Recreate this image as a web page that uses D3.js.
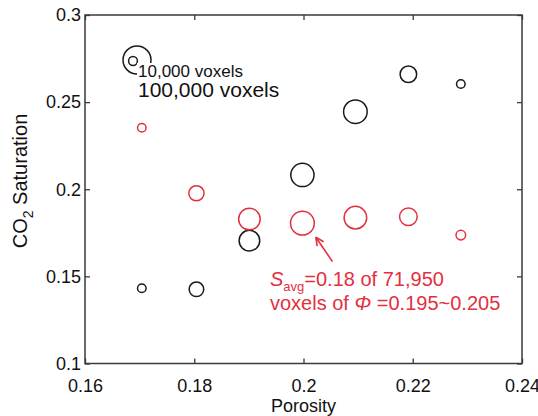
<!DOCTYPE html>
<html>
<meta charset="utf-8">
<script src="https://d3js.org/d3.v7.min.js"></script>
<style>
  body { margin: 0; background: #fff; }
  text { font-family: "Liberation Sans", Arial, sans-serif; }
</style>
<body>
<div id="my_dataviz"></div>

<script>

// porosity bins (x) and the two saturation series
var porosity = [0.1704, 0.1804, 0.1901, 0.1998, 0.2095, 0.2192, 0.2288];

var satBlack = [0.1432, 0.1426, 0.1705, 0.2082, 0.2445, 0.2660, 0.2604];
var voxBlack = [9400, 27200, 54100, 68700, 71000, 35100, 9400];

var satRed = [0.2353, 0.1977, 0.1829, 0.1805, 0.1837, 0.1842, 0.1737];
var voxRed = [9400, 29500, 59500, 71950, 65100, 39500, 11800];

var xTicks = [0.16, 0.18, 0.2, 0.22, 0.24];
var yTicks = [0.1, 0.15, 0.2, 0.25, 0.3];

// legend sizes
var legendVox = [10000, 100000];
var legendLabels = ["10,000 voxels", "100,000 voxels"];

var margin = {top: 15, right: 16, bottom: 52.5, left: 85},
    width = 538 - margin.left - margin.right,
    height = 416 - margin.top - margin.bottom;

var red = "#e3303f";
var axisColor = "#3a3a3a";

var svg = d3.select("#my_dataviz")
  .append("svg")
    .attr("width", 538)
    .attr("height", 416)
  .append("g")
    .attr("transform", "translate(" + margin.left + "," + margin.top + ")");

var x = d3.scaleLinear().domain([0.16, 0.24]).range([0, width]);
var y = d3.scaleLinear().domain([0.1, 0.3]).range([height, 0]);
var r = d3.scaleSqrt().domain([0, 100000]).range([0, 14]);

var fmt = function(d) { return String(+d.toFixed(2)); };

// axes, ticks pointing inward
function styleAxis(g) {
  g.select(".domain").remove();
  g.selectAll(".tick line").attr("stroke", axisColor).attr("stroke-width", 1.3);
  g.selectAll(".tick text").attr("fill", "#111").style("font-size", "18px")
    .style("font-family", "'Liberation Sans', Arial, sans-serif");
}

svg.append("g")
  .attr("transform", "translate(0," + height + ")")
  .call(d3.axisBottom(x).tickValues(xTicks).tickFormat(fmt).tickSizeInner(-5).tickSizeOuter(0).tickPadding(16))
  .call(styleAxis);

svg.append("g")
  .call(d3.axisTop(x).tickValues(xTicks).tickFormat("").tickSizeInner(-5).tickSizeOuter(0))
  .call(styleAxis);

svg.append("g")
  .call(d3.axisLeft(y).tickValues(yTicks).tickFormat(fmt).tickSizeInner(-5).tickSizeOuter(0).tickPadding(4))
  .call(styleAxis);

svg.append("g")
  .attr("transform", "translate(" + width + ",0)")
  .call(d3.axisRight(y).tickValues(yTicks).tickFormat("").tickSizeInner(-5).tickSizeOuter(0))
  .call(styleAxis);

// plot box
svg.append("rect")
  .attr("width", width)
  .attr("height", height)
  .attr("fill", "none")
  .attr("stroke", axisColor)
  .attr("stroke-width", 1.5);

// axis titles
svg.append("text")
  .attr("x", width / 2)
  .attr("y", height + 48.5)
  .attr("text-anchor", "middle")
  .style("font-size", "18px")
  .attr("fill", "#111")
  .text("Porosity");

var ylab = svg.append("text")
  .attr("transform", "translate(" + (27 - margin.left) + "," + (181 - margin.top) + ") rotate(-90)")
  .attr("text-anchor", "middle")
  .style("font-size", "20px")
  .attr("fill", "#111");
ylab.append("tspan").text("CO");
ylab.append("tspan").attr("dy", 6).style("font-size", "14px").text("2");
ylab.append("tspan").attr("dy", -6).text(" Saturation");

// bubbles
var black = porosity.map(function(p, i) { return {x: p, y: satBlack[i], n: voxBlack[i]}; });
var reds = porosity.map(function(p, i) { return {x: p, y: satRed[i], n: voxRed[i]}; });

svg.selectAll(".blk")
  .data(black)
  .enter()
  .append("circle")
    .attr("class", "blk")
    .attr("cx", function(d) { return x(d.x); })
    .attr("cy", function(d) { return y(d.y); })
    .attr("r", function(d) { return r(d.n); })
    .attr("fill", "none")
    .attr("stroke", "#1a1a1a")
    .attr("stroke-width", 1.5);

svg.selectAll(".red")
  .data(reds)
  .enter()
  .append("circle")
    .attr("class", "red")
    .attr("cx", function(d) { return x(d.x); })
    .attr("cy", function(d) { return y(d.y); })
    .attr("r", function(d) { return r(d.n); })
    .attr("fill", "none")
    .attr("stroke", red)
    .attr("stroke-width", 1.5);

// legend
var lg = svg.append("g").attr("transform", "translate(" + (137 - margin.left) + "," + (60 - margin.top) + ")");
lg.append("circle").attr("r", r(legendVox[1])).attr("fill", "none").attr("stroke", "#1a1a1a").attr("stroke-width", 1.5);
lg.append("circle").attr("cx", -4).attr("cy", 1).attr("r", r(legendVox[0])).attr("fill", "none").attr("stroke", "#1a1a1a").attr("stroke-width", 1.5);
lg.append("rect").attr("x", 0).attr("y", 3).attr("width", 115).attr("height", 17).attr("fill", "#fff");
lg.append("text").attr("x", 1).attr("y", 17).style("font-size", "17px").attr("fill", "#111").text(legendLabels[0]);
lg.append("text").attr("x", 1).attr("y", 37).style("font-size", "21px").attr("fill", "#111").text(legendLabels[1]);

// annotation for the 0.2 porosity bin
var target = reds[3];
var tipX = x(target.x) + 13.4, tipY = y(target.y) + 14;
var tailX = tipX + 16.7, tailY = tipY + 24.4;
var ang = Math.atan2(tailY - tipY, tailX - tipX);
var ann = svg.append("g").attr("stroke", red).attr("stroke-width", 1.6).attr("fill", "none");
ann.append("line").attr("x1", tailX).attr("y1", tailY).attr("x2", tipX).attr("y2", tipY);
[-0.45, 0.45].forEach(function(a) {
  ann.append("line")
    .attr("x1", tipX).attr("y1", tipY)
    .attr("x2", tipX + 9 * Math.cos(ang + a))
    .attr("y2", tipY + 9 * Math.sin(ang + a));
});

var t1 = svg.append("text")
  .attr("x", 270 - margin.left)
  .attr("y", 286 - margin.top)
  .style("font-size", "20px")
  .attr("fill", red);
t1.append("tspan").style("font-style", "italic").text("S");
t1.append("tspan").attr("dy", 5).style("font-size", "13px").text("avg");
t1.append("tspan").attr("dy", -5).text("=0.18 of 71,950");

var t2 = svg.append("text")
  .attr("x", 270 - margin.left)
  .attr("y", 310 - margin.top)
  .style("font-size", "20px")
  .attr("fill", red);
t2.append("tspan").text("voxels of ");
t2.append("tspan").style("font-style", "italic").text("\u03A6");
t2.append("tspan").text(" =0.195~0.205");

</script>
</body>
</html>
